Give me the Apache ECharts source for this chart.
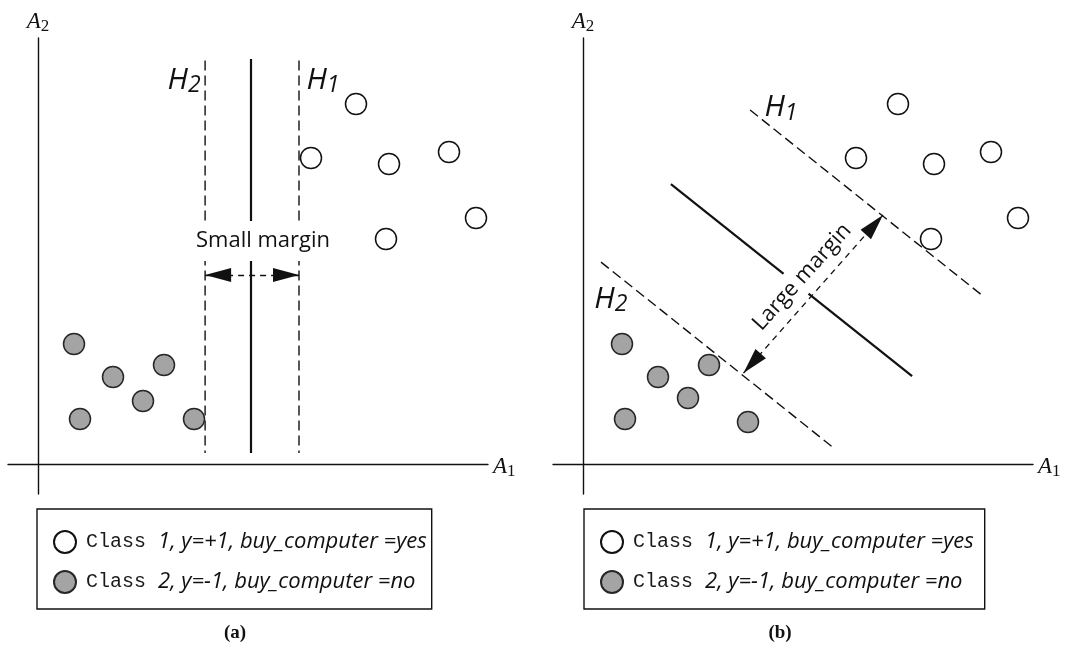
<!DOCTYPE html>
<html>
<head>
<meta charset="utf-8">
<script src="https://cdn.jsdelivr.net/npm/echarts@6/dist/echarts.min.js"></script>
<style>
  html, body { margin: 0; padding: 0; background: #fff; }
  #chart { width: 1067px; height: 651px; }
</style>
</head>
<body>
<div id="chart"></div>
<script>
// Training tuples in (A1, A2) units, panel (a) and panel (b)
const class1A = [[10.6, 12.0], [9.1, 10.2], [11.7, 10.0], [13.7, 10.4], [14.6, 8.2], [11.6, 7.5]];
const class2A = [[1.2, 4.0], [2.5, 2.9], [4.2, 3.3], [3.5, 2.1], [1.4, 1.5], [5.2, 1.5]];
const class1B = [[10.5, 12.0], [9.1, 10.2], [11.7, 10.0], [13.6, 10.4], [14.5, 8.2], [11.6, 7.5]];
const class2B = [[1.3, 4.0], [2.5, 2.9], [4.2, 3.3], [3.5, 2.2], [1.4, 1.5], [5.5, 1.4]];

// Separating hyperplanes and margin sides H1 / H2 (start, end)
const hyperA = [[7.1, 13.5], [7.1, 0.37]];
const h1A = [[8.7, 13.45], [8.7, 0.37]];
const h2A = [[5.57, 13.45], [5.57, 0.37]];
const hyperB = [[2.93, 9.33], [10.97, 2.93]];
const h1B = [[5.57, 11.8], [13.33, 5.6]];
const h2B = [[0.6, 6.73], [8.4, 0.5]];

// Margin arrows (tip to tip)
const marginA = [[5.57, 6.3], [8.7, 6.3]];
const marginB = [[5.35, 3.03], [10.0, 8.3]];

const classNames = ['Class 1, y=+1, buy_computer =yes', 'Class 2, y=-1, buy_computer =no'];
const captions = ['(a)', '(b)'];

const INK = '#111111';
const GREY = '#a4a4a4';
const SANS = 'Open Sans';

const chart = echarts.init(document.getElementById('chart'));

function axisName(letter, sub) {
  return '{a|' + letter + '}{s|' + sub + '}';
}
const axisNameStyle = {
  color: INK,
  rich: {
    a: { fontFamily: 'Liberation Serif', fontStyle: 'italic', fontSize: 23, lineHeight: 26, color: INK },
    s: { fontFamily: 'Liberation Serif', fontSize: 17, lineHeight: 19, verticalAlign: 'bottom', color: INK }
  }
};

function makeXAxis(gi) {
  return {
    gridIndex: gi, type: 'value', min: -1, max: 15,
    axisLine: { onZero: true, lineStyle: { color: INK, width: 1.4 } },
    axisTick: { show: false }, axisLabel: { show: false }, splitLine: { show: false },
    name: axisName('A', '1'), nameLocation: 'end', nameGap: 5,
    nameTextStyle: Object.assign({ padding: [6, 0, 0, 0] }, axisNameStyle)
  };
}
function makeYAxis(gi) {
  return {
    gridIndex: gi, type: 'value', min: -1, max: 14.2,
    axisLine: { onZero: true, lineStyle: { color: INK, width: 1.4 } },
    axisTick: { show: false }, axisLabel: { show: false }, splitLine: { show: false },
    name: axisName('A', '2'), nameLocation: 'end', nameGap: 3,
    nameTextStyle: axisNameStyle
  };
}

function openSeries(data, gi) {
  return {
    type: 'scatter', name: classNames[0], xAxisIndex: gi, yAxisIndex: gi, data: data,
    symbol: 'circle', symbolSize: 21, z: 4, silent: true,
    itemStyle: { color: '#ffffff', borderColor: INK, borderWidth: 1.5, opacity: 1 }
  };
}
function filledSeries(data, gi) {
  return {
    type: 'scatter', name: classNames[1], xAxisIndex: gi, yAxisIndex: gi, data: data,
    symbol: 'circle', symbolSize: 21, z: 4, silent: true,
    itemStyle: { color: GREY, borderColor: '#262626', borderWidth: 1.5, opacity: 1 }
  };
}
function lineSeries(data, gi, dashed) {
  return {
    type: 'line', xAxisIndex: gi, yAxisIndex: gi, data: data, symbol: 'none', z: 2, silent: true,
    lineStyle: dashed ? { color: INK, width: 1.4, type: [10, 5] } : { color: INK, width: 2.2 }
  };
}

const hRich = {
  h: { fontFamily: SANS, fontStyle: 'italic', fontSize: 30, lineHeight: 34, color: INK },
  s: { fontFamily: SANS, fontStyle: 'italic', fontSize: 23, lineHeight: 16, verticalAlign: 'bottom', color: INK }
};
function hLabel(pos, sub) {
  return {
    value: pos,
    label: { show: true, position: 'inside', opacity: 1, formatter: '{h|H}{s|' + sub + '}', rich: hRich }
  };
}
function marginLabel(pos, text, rotate, padding) {
  return {
    value: pos,
    label: {
      show: true, position: 'inside', opacity: 1, formatter: text, rotate: rotate,
      fontFamily: SANS, fontSize: 22, color: INK,
      backgroundColor: '#ffffff', padding: padding
    }
  };
}
function arrowMarkLine(seg) {
  return {
    silent: true, animation: false,
    symbol: ['triangle', 'triangle'], symbolSize: [14, 26], symbolOffset: [[0, 13], [0, 13]],
    lineStyle: { color: INK, width: 1.4, type: [6, 5], opacity: 1 },
    itemStyle: { color: INK, opacity: 1 },
    label: { show: false },
    data: [[{ coord: seg[0] }, { coord: seg[1] }]]
  };
}
function annotationSeries(gi, items, seg) {
  return {
    type: 'scatter', xAxisIndex: gi, yAxisIndex: gi, symbolSize: 0, z: 6, silent: true,
    itemStyle: { opacity: 1 },
    data: items, markLine: arrowMarkLine(seg)
  };
}

function legendFor(left, padRight) {
  return {
    data: classNames, orient: 'vertical', left: left, top: 509,
    padding: [21, padRight, 15, 16], itemGap: 16, itemWidth: 22, itemHeight: 22,
    borderColor: INK, borderWidth: 1.4, icon: 'circle', selectedMode: false,
    formatter: function (name) { return '{m|Class }{i|' + name.slice(6) + '}'; },
    textStyle: {
      color: INK,
      rich: {
        m: { fontFamily: 'Liberation Mono', fontSize: 20, color: '#1a1a1a', padding: [0, 0, 0, 5] },
        i: { fontFamily: SANS, fontStyle: 'italic', fontSize: 22, color: INK }
      }
    }
  };
}

const option = {
  animation: false,
  backgroundColor: '#ffffff',
  grid: [
    { left: 8, top: 38, width: 480, height: 456, containLabel: false, outerBoundsMode: 'none' },
    { left: 553, top: 38, width: 480, height: 456, containLabel: false, outerBoundsMode: 'none' }
  ],
  xAxis: [makeXAxis(0), makeXAxis(1)],
  yAxis: [makeYAxis(0), makeYAxis(1)],
  legend: [legendFor(37, 5), legendFor(584, 11)],
  graphic: [
    { type: 'text', x: 235, y: 633, style: { text: captions[0], font: 'bold 19px "Liberation Serif"', fill: INK, textAlign: 'center', textVerticalAlign: 'middle' } },
    { type: 'text', x: 780, y: 633, style: { text: captions[1], font: 'bold 19px "Liberation Serif"', fill: INK, textAlign: 'center', textVerticalAlign: 'middle' } }
  ],
  series: [
    // panel (a): vertical hyperplane, small margin
    lineSeries(hyperA, 0, false),
    lineSeries(h1A, 0, true),
    lineSeries(h2A, 0, true),
    openSeries(class1A, 0),
    filledSeries(class2A, 0),
    annotationSeries(0, [
      hLabel([4.87, 12.8], '2'),
      hLabel([9.5, 12.8], '1'),
      marginLabel([7.5, 7.43], 'Small margin', 0, [9, 3])
    ], marginA),
    // panel (b): oblique hyperplane, large margin
    lineSeries(hyperB, 1, false),
    lineSeries(h1B, 1, true),
    lineSeries(h2B, 1, true),
    openSeries(class1B, 1),
    filledSeries(class2B, 1),
    annotationSeries(1, [
      hLabel([6.6, 11.87], '1'),
      hLabel([0.93, 5.5], '2'),
      marginLabel([7.3, 6.23], 'Large margin', 48, [5, 3])
    ], marginB)
  ]
};

chart.setOption(option);
</script>
</body>
</html>
